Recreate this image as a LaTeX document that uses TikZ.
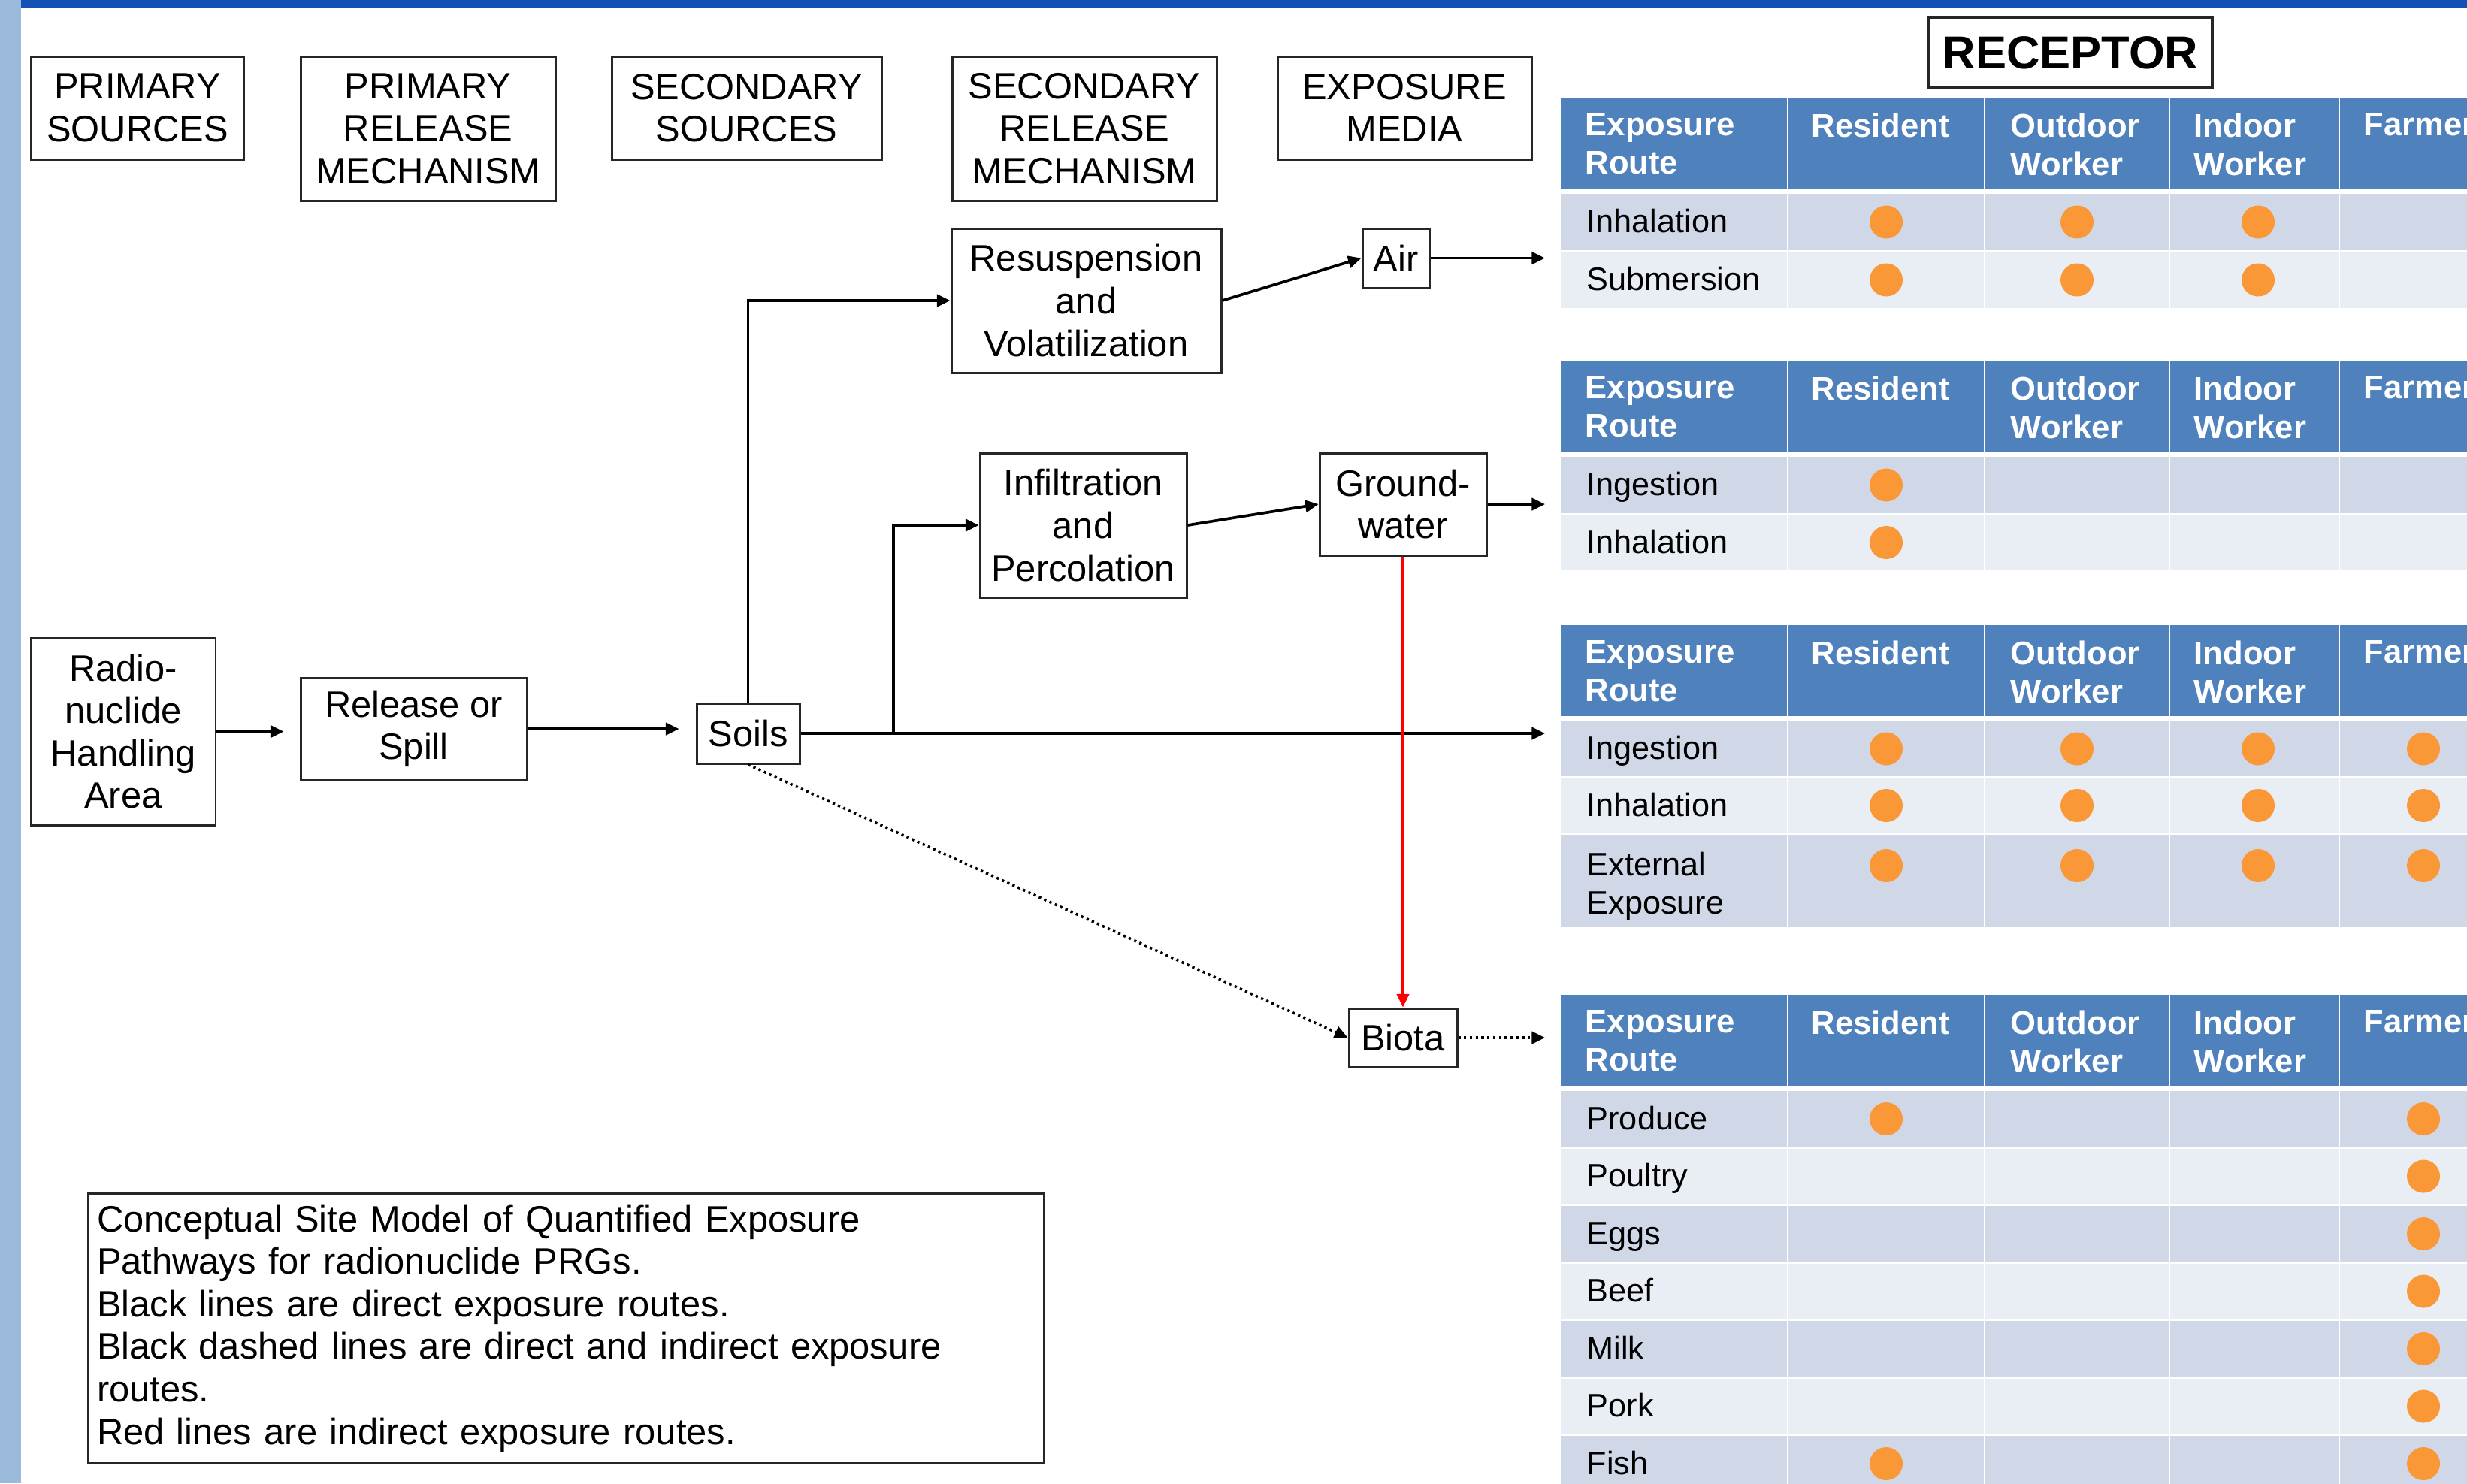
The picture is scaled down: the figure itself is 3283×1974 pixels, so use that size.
\documentclass[tikz,border=0pt]{standalone}
\usepackage{fontspec}
\setmainfont{Liberation Sans}
\usetikzlibrary{arrows.meta}
\definecolor{topbar}{RGB}{19,81,180}
\definecolor{stripe}{RGB}{155,185,218}
\definecolor{hdr}{RGB}{79,129,189}
\definecolor{rowA}{RGB}{208,216,232}
\definecolor{rowB}{RGB}{233,237,244}
\definecolor{dotcol}{RGB}{250,152,55}
\definecolor{redline}{RGB}{255,0,0}

\newcommand\tabhead[2]{%
  \fill[hdr] (2077,#1) rectangle (3340,#1+121);
  \node[hd] (#2a) at (2109,#1+20) {Exposure\\Route};
  \node[hd] (#2b) at (2410,#1+20) {Resident};
  \node[hd] (#2c) at (2675,#1+20) {Outdoor\\Worker};
  \node[hd] (#2d) at (2919,#1+20) {Indoor\\Worker};
  \node[hd] (#2e) at (3145,#1+20) {Farmer};
}
\newcommand\tabrow[5]{%
  \fill[#3] (2077,#1) rectangle (3340,#1+#2);
  \node[lb] (#4) at (2111,#1+#2/2+14) {#5};
}
\newcommand\tabsep[2]{%
  \foreach \cx in {2379,2641,2887,3113} \draw[white, line width=0.7pt] (\cx,#1) -- (\cx,#2);
}
\newcommand\orgdot[2]{\fill[dotcol] (#1,#2) circle[radius=2.2mm];}

\begin{document}
\begin{tikzpicture}[x=0.1mm,y=-0.1mm,
  nbox/.style={draw=black!85, line width=0.85pt, fill=white, inner sep=0pt, align=center,
    font=\fontsize{13.9}{16.1}\selectfont},
  conn/.style={line width=1.05pt, -{Triangle[length=5pt,width=4.6pt]}},
  dotconn/.style={line width=1pt, dash pattern=on 0.9pt off 1.3pt, -{Triangle[length=5pt,width=4.6pt]}},
  hd/.style={anchor=north west, inner sep=0pt, text=white, align=left,
    font=\bfseries\fontsize{12.4}{14.5}\selectfont},
  lb/.style={anchor=base west, inner sep=0pt, align=left, font=\fontsize{12.3}{14.5}\selectfont},
]
\useasboundingbox (0,0) rectangle (3283,1974);
\clip (0,0) rectangle (3283,1974);
\fill[white] (0,0) rectangle (3283,1974);
\fill[stripe] (0,0) rectangle (28,1974);
\fill[topbar] (28,0) rectangle (3283,11);

% column headers
\node[nbox, minimum width=28.4mm, minimum height=13.7mm] (hPS) at (183,143.5) {PRIMARY\\SOURCES};
\node[nbox, minimum width=33.9mm, minimum height=19.2mm] (hPRM) at (569.5,171) {PRIMARY\\RELEASE\\MECHANISM};
\node[nbox, minimum width=35.9mm, minimum height=13.7mm] (hSS) at (993.5,143.5) {SECONDARY\\SOURCES};
\node[nbox, minimum width=35.2mm, minimum height=19.2mm] (hSRM) at (1443,171) {SECONDARY\\RELEASE\\MECHANISM};
\node[nbox, minimum width=33.8mm, minimum height=13.7mm] (hEM) at (1869,143.5) {EXPOSURE\\MEDIA};
\node[nbox, line width=1pt, font=\bfseries\fontsize{17.5}{20}\selectfont, minimum width=37.8mm, minimum height=9.4mm] (rec) at (2755,70) {RECEPTOR};

% diagram nodes
\node[nbox, minimum width=24.6mm, minimum height=24.9mm] (radio) at (164,973.5) {Radio-\\nuclide\\Handling\\Area};
\node[nbox, minimum width=30.1mm, minimum height=13.6mm] (rel) at (550.5,970) {Release or\\Spill};
\node[nbox, minimum width=13.7mm, minimum height=8mm] (soils) at (995.5,976) {Soils};
\node[nbox, minimum width=35.9mm, minimum height=19.2mm] (resusp) at (1445.5,400) {Resuspension\\and\\Volatilization};
\node[nbox, minimum width=27.5mm, minimum height=19.2mm] (infil) at (1441.5,699) {Infiltration\\and\\Percolation};
\node[nbox, minimum width=8.9mm, minimum height=7.9mm] (air) at (1857.5,343.5) {Air};
\node[nbox, minimum width=22.2mm, minimum height=13.6mm] (gw) at (1867,671) {Ground-\\water};
\node[nbox, minimum width=14.4mm, minimum height=7.8mm] (biota) at (1867,1381) {Biota};

\node[nbox, align=left, text width=124.8mm, minimum height=35.9mm, inner xsep=1.2mm] (cap) at (753,1768)
  {Conceptual Site Model of Quantified Exposure\\Pathways for radionuclide PRGs.\\Black lines are direct exposure routes.\\Black dashed lines are direct and indirect exposure\\routes.\\Red lines are indirect exposure routes.};

% connectors
\coordinate (e1) at (2056,343.5);
\coordinate (e2) at (2056,671);
\coordinate (e3) at (2056,976);
\coordinate (e4) at (2056,1381);
\coordinate (br) at (1189,976);
\draw[conn, shorten >=2.1mm] (radio.east) -- (radio.east -| rel.west);
\draw[conn, shorten >=2.2mm] (rel.east) -- (rel.east -| soils.west);
\draw[conn] (soils.north) |- (resusp.west);
\draw[conn] (soils.east) -- (e3);
\draw[conn] (br) |- (infil.west);
\draw[conn] (resusp.east) -- (air.west);
\draw[conn] (air.east) -- (e1);
\draw[conn] (infil.east) -- (gw.west);
\draw[conn] (gw.east) -- (e2);
\draw[conn, redline, line width=0.9pt] (gw.south) -- (biota.north);
\draw[dotconn] (soils.south) -- (biota.west);
\draw[dotconn] (biota.east) -- (e4);

% table 1
\tabhead{130}{ta}
\tabrow{258}{75}{rowA}{ta1}{Inhalation}
\tabrow{335}{75}{rowB}{ta2}{Submersion}
\tabsep{130}{410}
\foreach \yy in {295.5,372.5} {\orgdot{2510}{\yy}\orgdot{2764}{\yy}\orgdot{3005}{\yy}}

% table 2
\tabhead{480}{tb}
\tabrow{608}{75}{rowA}{tb1}{Ingestion}
\tabrow{685}{74}{rowB}{tb2}{Inhalation}
\tabsep{480}{759}
\orgdot{2510}{645.5}\orgdot{2510}{722}

% table 3
\tabhead{832}{tc}
\tabrow{960}{73}{rowA}{tc1}{Ingestion}
\tabrow{1035}{74}{rowB}{tc2}{Inhalation}
\fill[rowA] (2077,1111) rectangle (3340,1234);
\node[lb, anchor=north west] (tc3) at (2111,1133) {External\\Exposure};
\tabsep{832}{1234}
\foreach \yy in {996.5,1072,1152} {\orgdot{2510}{\yy}\orgdot{2764}{\yy}\orgdot{3005}{\yy}\orgdot{3225}{\yy}}

% table 4
\tabhead{1324}{td}
\tabrow{1452}{74}{rowA}{td1}{Produce}
\tabrow{1528.5}{74}{rowB}{td2}{Poultry}
\tabrow{1605}{74}{rowA}{td3}{Eggs}
\tabrow{1681.5}{74}{rowB}{td4}{Beef}
\tabrow{1758}{74}{rowA}{td5}{Milk}
\tabrow{1834.5}{74}{rowB}{td6}{Pork}
\tabrow{1911}{74}{rowA}{td7}{Fish}
\tabsep{1324}{1990}
\foreach \k in {0,...,6} {\orgdot{3225}{1489+76.5*\k}}
\orgdot{2510}{1489}\orgdot{2510}{1948}
\end{tikzpicture}
\end{document}
